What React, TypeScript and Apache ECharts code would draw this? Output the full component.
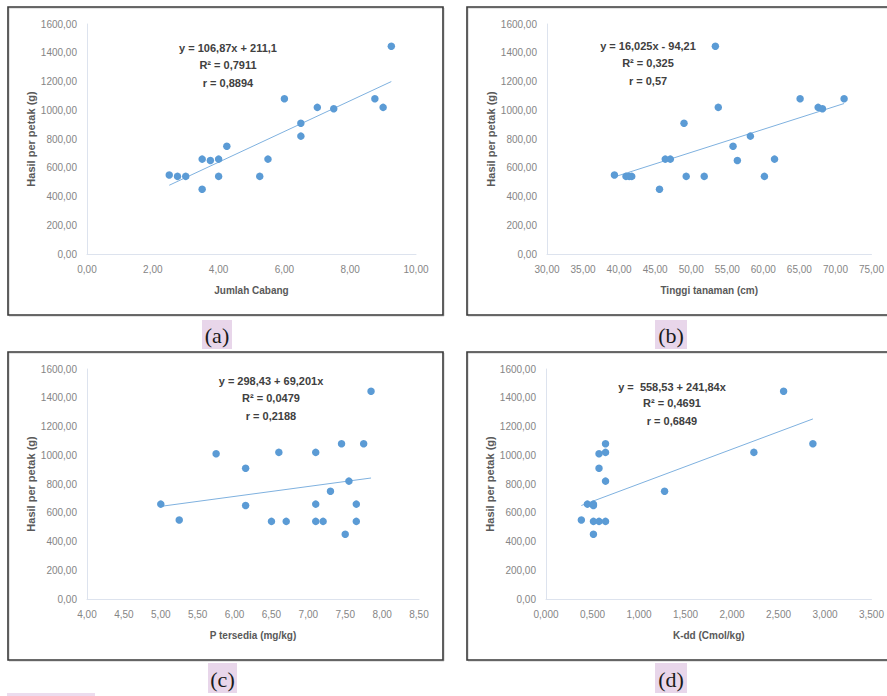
import React, { useEffect, useRef } from "react";
import * as echarts from "echarts";

// ---- data ----
const aX = [2.5, 2.75, 3.0, 3.5, 3.5, 3.75, 4.0, 4.0, 4.25, 5.25, 5.5, 6.0, 6.5, 6.5, 7.0, 7.5, 8.75, 9.0, 9.25];
const aY = [550, 540, 540, 660, 450, 650, 660, 540, 750, 540, 660, 1080, 910, 820, 1020, 1010, 1080, 1020, 1445];

const bX = [39.35, 40.95, 41.4, 41.75, 45.6, 46.4, 47.1, 49.0, 49.3, 51.8, 53.35, 53.75, 55.8, 56.4, 58.2, 60.15, 61.55, 65.1, 67.6, 68.2, 71.2];
const bY = [550, 540, 540, 540, 450, 660, 660, 910, 540, 540, 1445, 1020, 750, 650, 820, 540, 660, 1080, 1020, 1010, 1080];

const cX = [5.0, 5.25, 5.75, 6.15, 6.15, 6.5, 6.6, 6.7, 7.1, 7.1, 7.1, 7.2, 7.3, 7.45, 7.55, 7.5, 7.65, 7.65, 7.75, 7.85];
const cY = [660, 550, 1010, 910, 650, 540, 1020, 540, 1020, 660, 540, 540, 750, 1080, 820, 450, 660, 540, 1080, 1445];

const dX = [0.38, 0.445, 0.51, 0.51, 0.51, 0.51, 0.57, 0.64, 0.57, 0.57, 0.64, 0.64, 0.64, 1.275, 2.235, 2.555, 2.87];
const dY = [550, 660, 660, 650, 540, 450, 540, 540, 1010, 910, 1080, 1020, 820, 750, 1020, 1445, 1080];

// regression lines as printed: [slope, intercept, xStart, xEnd]
const aFit = [106.87, 211.1, 2.5, 9.25];
const bFit = [16.025, -94.21, 39.35, 71.2];
const cFit = [69.201, 298.43, 5.0, 7.85];
const dFit = [241.84, 558.53, 0.38, 2.87];

const aEq = ["y = 106,87x + 211,1", "R² = 0,7911", "r = 0,8894"];
const bEq = ["y = 16,025x - 94,21", "R² = 0,325", "r = 0,57"];
const cEq = ["y = 298,43 + 69,201x", "R² = 0,0479", "r = 0,2188"];
const dEq = ["y =  558,53 + 241,84x", "R² = 0,4691", "r = 0,6849"];

const xTitles = ["Jumlah Cabang", "Tinggi tanaman (cm)", "P tersedia (mg/kg)", "K-dd (Cmol/kg)"];
const yTitle = "Hasil per petak (g)";
const panelLabels = ["(a)", "(b)", "(c)", "(d)"];

const xMins = [0, 30, 4, 0];
const xMaxs = [10, 75, 8.5, 3.5];
const xSteps = [2, 5, 0.5, 0.5];
const xDecimals = [2, 2, 2, 3];
const yTicks = [0, 200, 400, 600, 800, 1000, 1200, 1400, 1600];

const FONT = "'Liberation Sans', Arial, sans-serif";
const BLUE = "#5b9bd5";

export default function App() {
  const ref = useRef<HTMLDivElement>(null);
  useEffect(() => {
    if (!ref.current) return;
    const chart = echarts.init(ref.current, null, { renderer: "svg" });

    const grids = [
      { left: 87, top: 24, width: 329, height: 230 },
      { left: 547, top: 24, width: 328, height: 230 },
      { left: 87, top: 369, width: 332, height: 230 },
      { left: 546, top: 369, width: 327, height: 230 },
    ];
    const xs = [aX, bX, cX, dX];
    const ys = [aY, bY, cY, dY];
    const fits = [aFit, bFit, cFit, dFit];
    const eqs = [aEq, bEq, cEq, dEq];

    const axisLine = { show: true, lineStyle: { color: "#dde3ee", width: 1 } };
    const labelStyle = { color: "#858585", fontSize: 10, fontFamily: FONT };

    const xAxis = grids.map((_, i) => ({
      type: "value",
      gridIndex: i,
      min: xMins[i],
      max: xMaxs[i],
      interval: xSteps[i],
      axisLine,
      axisTick: { show: false },
      splitLine: { show: false },
      axisLabel: {
        ...labelStyle,
        margin: 10,
        formatter: (v: number) => v.toFixed(xDecimals[i]).replace(".", ","),
      },
      name: xTitles[i],
      nameLocation: "middle",
      nameGap: 31,
      nameTextStyle: { color: "#595959", fontSize: 10, fontWeight: "bold", fontFamily: FONT },
    }));

    const yAxis = grids.map((_, i) => ({
      type: "value",
      gridIndex: i,
      min: yTicks[0],
      max: yTicks[yTicks.length - 1],
      interval: yTicks[1] - yTicks[0],
      axisLine,
      axisTick: { show: false },
      splitLine: { show: false },
      axisLabel: {
        ...labelStyle,
        margin: 10,
        formatter: (v: number) => v.toFixed(2).replace(".", ","),
      },
      name: yTitle,
      nameLocation: "middle",
      nameGap: 49,
      nameTextStyle: { color: "#595959", fontSize: 11, fontWeight: "bold", fontFamily: FONT },
    }));

    const series: any[] = [];
    grids.forEach((_, i) => {
      const f = fits[i];
      series.push({
        type: "line",
        xAxisIndex: i,
        yAxisIndex: i,
        data: [
          [f[2], f[0] * f[2] + f[1]],
          [f[3], f[0] * f[3] + f[1]],
        ],
        symbol: "none",
        lineStyle: { color: "#7fb1df", width: 1 },
        silent: true,
        z: 1,
      });
      series.push({
        type: "scatter",
        xAxisIndex: i,
        yAxisIndex: i,
        data: xs[i].map((x, k) => [x, ys[i][k]]),
        symbolSize: 7.5,
        itemStyle: { color: BLUE, opacity: 1 },
        z: 2,
      });
    });

    const borders = [
      { x: 8, y: 7, w: 435, h: 308 },
      { x: 467, y: 7, w: 430, h: 308 },
      { x: 8, y: 352, w: 435, h: 308 },
      { x: 467, y: 352, w: 430, h: 308 },
    ];
    const labelBoxes = [
      { x: 202, y: 320, w: 30, h: 29 },
      { x: 655, y: 320, w: 32, h: 29 },
      { x: 208, y: 663, w: 29, h: 30 },
      { x: 655, y: 663, w: 32, h: 30 },
    ];
    const eqPos = [
      { x: 228, y: [48, 65, 83] },
      { x: 648, y: [46, 63, 81] },
      { x: 271, y: [381, 398, 416] },
      { x: 672, y: [387, 403, 421] },
    ];

    const graphic: any[] = [];
    borders.forEach((b) => {
      graphic.push({
        type: "rect",
        shape: { x: b.x + 1, y: b.y + 1, width: b.w, height: b.h },
        style: { fill: "none", stroke: "#c8c8c8", lineWidth: 1 },
        silent: true,
      });
      graphic.push({
        type: "rect",
        shape: { x: b.x, y: b.y, width: b.w, height: b.h },
        style: { fill: "none", stroke: "#3a3a3a", lineWidth: 1.6 },
        silent: true,
      });
    });
    labelBoxes.forEach((b, i) => {
      graphic.push({
        type: "rect",
        shape: { x: b.x, y: b.y, width: b.w, height: b.h },
        style: { fill: "#e8d6ea" },
        silent: true,
      });
      graphic.push({
        type: "text",
        x: b.x + b.w / 2,
        y: b.y + b.h / 2 + 1,
        style: {
          text: panelLabels[i],
          fill: "#1a1a1a",
          font: "22px 'Liberation Serif', 'DejaVu Serif', serif",
          textAlign: "center",
          textVerticalAlign: "middle",
        },
        silent: true,
      });
    });
    graphic.push({
      type: "rect",
      shape: { x: 7, y: 693, width: 88, height: 3 },
      style: { fill: "#ecdcee" },
      silent: true,
    });
    eqPos.forEach((p, i) => {
      eqs[i].forEach((t, k) => {
        graphic.push({
          type: "text",
          x: p.x,
          y: p.y[k],
          style: {
            text: t,
            fill: "#404040",
            font: `bold 11px ${FONT}`,
            textAlign: "center",
            textVerticalAlign: "middle",
          },
          silent: true,
        });
      });
    });

    chart.setOption({
      animation: false,
      backgroundColor: "#ffffff",
      grid: grids.map((g) => ({ ...g, containLabel: false })),
      xAxis,
      yAxis,
      series,
      graphic,
    });
    return () => chart.dispose();
  }, []);

  return (
    <div
      ref={ref}
      style={{ position: "fixed", left: 0, top: 0, width: 887, height: 696, background: "#fff" }}
    />
  );
}
